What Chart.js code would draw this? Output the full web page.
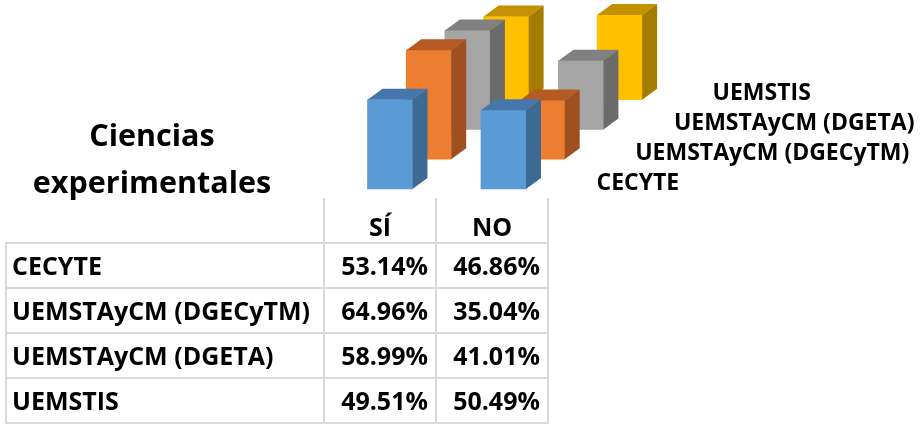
<!DOCTYPE html>
<html>
<head>
<meta charset="utf-8">
<script src="https://cdn.jsdelivr.net/npm/chart.js@4/dist/chart.umd.min.js"></script>
<style>
    body { margin: 0; background: #fff; font-family: 'Open Sans', sans-serif; }
    #wrap { position: absolute; left: 0; top: 0; width: 924px; height: 425px; }
    #title {
        position: absolute; left: 2px; top: 111px; width: 300px;
        text-align: center; font-weight: 700; font-size: 30.5px; line-height: 47px; color: #000;
    }
    table {
        position: absolute; left: 5px; top: 198px;
        border-collapse: collapse; font-weight: 700; font-size: 25px; color: #000;
    }
    tr { height: 45px; }
    td, th { border: 2px solid #d9d9d9; padding: 0 7px; line-height: 1; }
    th { border-top: none; text-align: center; vertical-align: bottom; padding-bottom: 3px; font-weight: 700; }
    th.blank { border: none; border-right: 2px solid #d9d9d9; }
    td.name { width: 304px; padding-left: 5px; text-align: left; white-space: nowrap; }
    td.num { width: 96px; text-align: right; white-space: nowrap; }
</style>
</head>
<body>
<div id="wrap"><canvas id="chart"></canvas></div>
<div id="title">Ciencias<br>experimentales</div>
<table id="datatable"></table>
<script>
const CATEGORIES = ['SÍ', 'NO'];
const SERIES = ['CECYTE', 'UEMSTAyCM (DGECyTM)', 'UEMSTAyCM (DGETA)', 'UEMSTIS'];
const SI_VALUES = [53.14, 64.96, 58.99, 49.51];
const NO_VALUES = [46.86, 35.04, 41.01, 50.49];

// front, top, side shades per series
const COLORS = [
    ['#5b9bd5', '#4677aa', '#3d6a92'],
    ['#ed7d31', '#b65a23', '#9e501e'],
    ['#a5a5a5', '#808080', '#6b6b6b'],
    ['#ffc000', '#c49200', '#a47c00'],
];
// how far each row is pushed back (x in category units, y in %)
const DEPTH_X = 0.341;
const DEPTH_Y = 17.7;
const SIDE_W = 15, SIDE_H = 11;

function buildDataset(k) {
    let base = k * DEPTH_Y;
    let vals = [SI_VALUES[k], NO_VALUES[k]];
    return {
        label: SERIES[k],
        order: k,
        data: vals.map((v, i) => ({x: i + k * DEPTH_X, y: [base, base + v]})),
        backgroundColor: COLORS[k][0],
        borderWidth: 0,
        barThickness: 45,
        grouped: false,
    };
}

const depthPlugin = {
    id: 'depth',
    afterDatasetDraw(chart, args) {
        let ctx = chart.ctx;
        let k = args.index;
        let bars = args.meta.data;
        ctx.save();
        for (let el of bars) {
            let {x, y, base, width} = el.getProps(['x', 'y', 'base', 'width'], true);
            let x0 = x - width / 2, x1 = x + width / 2;
            ctx.fillStyle = COLORS[k][1];
            ctx.beginPath();
            ctx.moveTo(x0, y);
            ctx.lineTo(x0 + SIDE_W, y - SIDE_H);
            ctx.lineTo(x1 + SIDE_W, y - SIDE_H);
            ctx.lineTo(x1, y);
            ctx.closePath();
            ctx.fill();
            ctx.fillStyle = COLORS[k][2];
            ctx.beginPath();
            ctx.moveTo(x1, y);
            ctx.lineTo(x1 + SIDE_W, y - SIDE_H);
            ctx.lineTo(x1 + SIDE_W, base - SIDE_H);
            ctx.lineTo(x1, base);
            ctx.closePath();
            ctx.fill();
        }
        // series name beside the NO bar of its row
        let last = bars[bars.length - 1];
        let {x, base} = last.getProps(['x', 'base'], true);
        ctx.fillStyle = '#000';
        ctx.font = '700 23px "Open Sans", sans-serif';
        ctx.textBaseline = 'middle';
        ctx.textAlign = 'left';
        ctx.fillText(SERIES[k], x + 93, base - 6);
        ctx.restore();
    },
};

const config = {
    type: 'bar',
    data: {datasets: SERIES.map((s, k) => buildDataset(k))},
    plugins: [depthPlugin],
    options: {
        responsive: true,
        maintainAspectRatio: false,
        animation: false,
        layout: {padding: 0},
        plugins: {legend: {display: false}, tooltip: {enabled: false}},
        scales: {
            x: {type: 'linear', display: false, offset: false, min: -3.436, max: 4.705},
            y: {type: 'linear', display: false, min: -140.5, max: 112.5},
        },
    },
};

function buildTable() {
    let table = document.getElementById('datatable');
    let html = `<tr><th class="blank"></th>${CATEGORIES.map(c => `<th>${c}</th>`).join('')}</tr>`;
    SERIES.forEach((s, k) => {
        html += `<tr><td class="name">${s}</td><td class="num">${SI_VALUES[k].toFixed(2)}%</td><td class="num">${NO_VALUES[k].toFixed(2)}%</td></tr>`;
    });
    table.innerHTML = html;
}

window.addEventListener('DOMContentLoaded', () => {
    buildTable();
    new Chart('chart', config);
});
</script>
</body>
</html>
